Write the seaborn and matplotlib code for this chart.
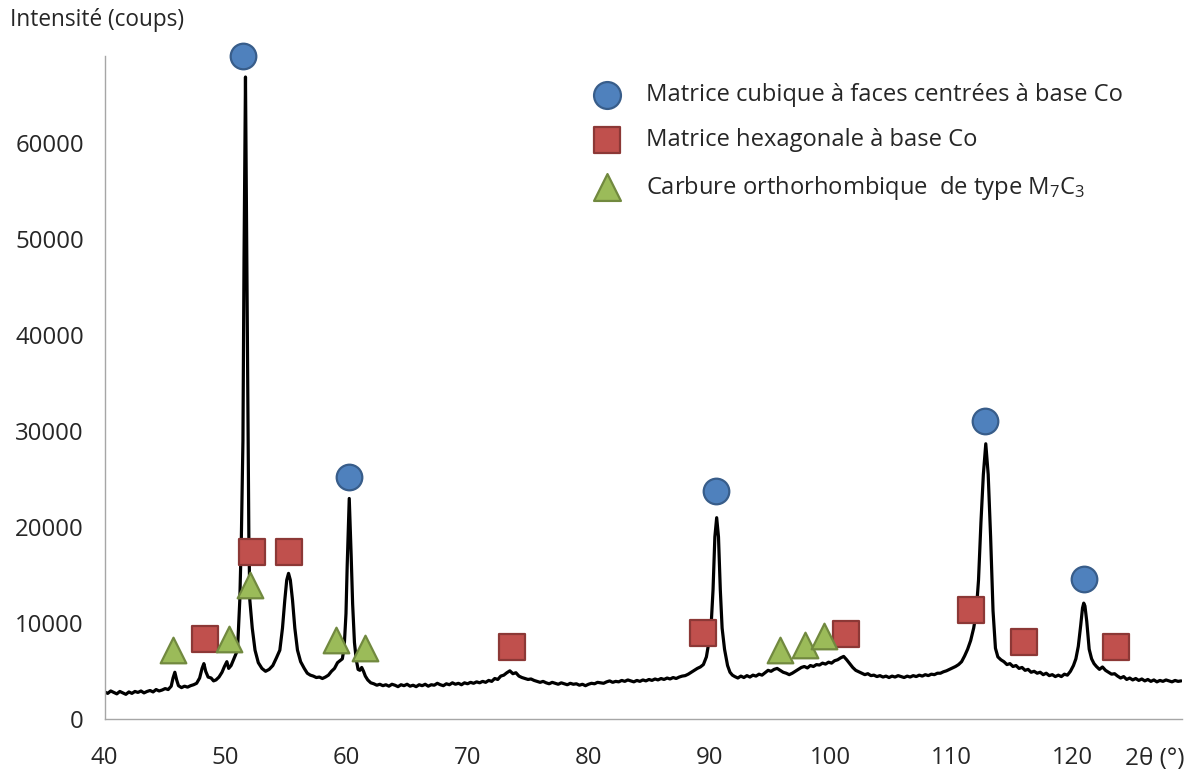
import numpy as np
import pandas as pd
import matplotlib
matplotlib.use("Agg")
import matplotlib.pyplot as plt
import seaborn as sns

# --- diffractogram (2theta in degrees, counts) ---
two_theta = [
    40.0, 40.25, 40.5, 40.75, 41.0, 41.25, 41.5, 41.75, 42.0, 42.25,
    42.5, 42.75, 43.0, 43.25, 43.5, 43.75, 44.0, 44.25, 44.5, 44.75,
    45.0, 45.25, 45.5, 45.65, 45.8, 45.95, 46.1, 46.35, 46.6, 46.85,
    47.1, 47.35, 47.6, 47.85, 48.05, 48.2, 48.35, 48.55, 48.8, 49.0,
    49.2, 49.45, 49.7, 49.9, 50.1, 50.25, 50.45, 50.65, 50.85, 50.98,
    51.17, 51.3, 51.43, 51.52, 51.64, 51.76, 51.85, 51.92, 52.0, 52.2,
    52.43, 52.7, 53.0, 53.3, 53.6, 53.9, 54.2, 54.48, 54.7, 54.89,
    55.05, 55.2, 55.35, 55.53, 55.72, 55.94, 56.2, 56.5, 56.75, 57.0,
    57.25, 57.5, 57.75, 58.0, 58.25, 58.5, 58.75, 59.0, 59.25, 59.45,
    59.65, 59.8, 59.95, 60.05, 60.22, 60.38, 60.5, 60.65, 60.8, 60.95,
    61.1, 61.25, 61.4, 61.55, 61.75, 62.0, 62.25, 62.5, 62.75, 63.0,
    63.25, 63.5, 63.75, 64.0, 64.25, 64.5, 64.75, 65.0, 65.25, 65.5,
    65.75, 66.0, 66.25, 66.5, 66.75, 67.0, 67.25, 67.5, 67.75, 68.0,
    68.25, 68.5, 68.75, 69.0, 69.25, 69.5, 69.75, 70.0, 70.25, 70.5,
    70.75, 71.0, 71.25, 71.5, 71.75, 72.0, 72.25, 72.5, 72.75, 73.0,
    73.25, 73.5, 73.75, 74.0, 74.25, 74.5, 74.75, 75.0, 75.25, 75.5,
    75.75, 76.0, 76.25, 76.5, 76.75, 77.0, 77.25, 77.5, 77.75, 78.0,
    78.25, 78.5, 78.75, 79.0, 79.25, 79.5, 79.75, 80.0, 80.25, 80.5,
    80.75, 81.0, 81.25, 81.5, 81.75, 82.0, 82.25, 82.5, 82.75, 83.0,
    83.25, 83.5, 83.75, 84.0, 84.25, 84.5, 84.75, 85.0, 85.25, 85.5,
    85.75, 86.0, 86.25, 86.5, 86.75, 87.0, 87.25, 87.5, 87.75, 88.0,
    88.25, 88.5, 88.75, 89.0, 89.25, 89.5, 89.75, 89.95, 90.1, 90.3,
    90.45, 90.6, 90.75, 90.9, 91.05, 91.25, 91.5, 91.7, 91.9, 92.1,
    92.35, 92.6, 92.85, 93.1, 93.35, 93.6, 93.85, 94.1, 94.35, 94.6,
    94.85, 95.1, 95.35, 95.6, 95.85, 96.1, 96.35, 96.6, 96.85, 97.1,
    97.35, 97.6, 97.85, 98.1, 98.35, 98.6, 98.85, 99.1, 99.35, 99.6,
    99.85, 100.1, 100.35, 100.6, 100.85, 101.1, 101.35, 101.6, 101.85, 102.1,
    102.35, 102.6, 102.85, 103.1, 103.35, 103.6, 103.85, 104.1, 104.35, 104.6,
    104.85, 105.1, 105.35, 105.6, 105.85, 106.1, 106.35, 106.6, 106.85, 107.1,
    107.35, 107.6, 107.85, 108.1, 108.35, 108.6, 108.85, 109.1, 109.35, 109.6,
    109.85, 110.1, 110.35, 110.6, 110.85, 111.1, 111.35, 111.6, 111.85, 112.05,
    112.25, 112.45, 112.65, 112.85, 113.05, 113.25, 113.45, 113.65, 113.85, 114.1,
    114.35, 114.6, 114.85, 115.1, 115.35, 115.6, 115.85, 116.1, 116.35, 116.6,
    116.85, 117.1, 117.35, 117.6, 117.85, 118.1, 118.35, 118.6, 118.85, 119.1,
    119.35, 119.6, 119.85, 120.1, 120.3, 120.5, 120.7, 120.85, 120.95, 121.05,
    121.2, 121.4, 121.6, 121.8, 122.0, 122.25, 122.5, 122.75, 123.0, 123.25,
    123.5, 123.75, 124.0, 124.25, 124.5, 124.75, 125.0, 125.25, 125.5, 125.75,
    126.0, 126.25, 126.5, 126.75, 127.0, 127.25, 127.5, 127.75, 128.0, 128.25,
    128.5, 128.75, 129.0,
]
counts = [
    2850, 2700, 2950, 2800, 2650, 2900, 2750, 2600, 2850, 2700,
    2900, 2800, 2950, 2750, 2900, 3000, 2850, 3100, 2950, 3050,
    3200, 3100, 3450, 4300, 4900, 4100, 3500, 3300, 3450, 3350,
    3500, 3600, 3750, 4300, 5300, 5800, 5000, 4400, 4300, 4000,
    4100, 4400, 4900, 5500, 6000, 5300, 5600, 6200, 6800, 7200,
    12400, 19000, 29000, 48000, 66900, 46000, 29000, 19000, 12400, 9500,
    7200, 5900, 5300, 5000, 5200, 5600, 6400, 7200, 9500, 12400,
    14500, 15200, 14500, 12400, 9500, 7200, 6000, 5300, 4800, 4600,
    4500, 4350, 4400, 4250, 4400, 4600, 5000, 5300, 5900, 6100,
    6300, 7500, 11000, 16000, 23000, 17000, 12000, 8000, 6200, 5200,
    5100, 5400, 5000, 4500, 4100, 3800, 3700, 3550, 3650, 3500,
    3600, 3450, 3650, 3550, 3400, 3600, 3500, 3650, 3450, 3550,
    3400, 3600, 3500, 3650, 3450, 3600, 3550, 3750, 3600, 3500,
    3700, 3600, 3800, 3650, 3750, 3600, 3800, 3700, 3850, 3750,
    3900, 3800, 3950, 3850, 4050, 3950, 4250, 4150, 4500, 4600,
    4850, 5050, 4750, 4850, 4500, 4350, 4250, 4150, 4200, 4050,
    3950, 3850, 3950, 3800, 3700, 3850, 3750, 3650, 3800, 3700,
    3600, 3750, 3650, 3700, 3550, 3650, 3500, 3650, 3750, 3700,
    3850, 3800, 3750, 3900, 4000, 3850, 3950, 3900, 4050, 3950,
    4100, 4000, 3900, 4050, 3950, 4100, 4000, 4150, 4050, 4200,
    4100, 4250, 4150, 4300, 4200, 4350, 4250, 4400, 4500, 4550,
    4700, 4900, 5100, 5300, 5450, 5700, 6500, 8000, 8800, 13500,
    19000, 21000, 19000, 13500, 9500, 7300, 5600, 4900, 4600, 4450,
    4300, 4500, 4350, 4550, 4400, 4600, 4500, 4700, 4600, 4850,
    5100, 5000, 5200, 5300, 5100, 4900, 4800, 4650, 4800, 5000,
    5200, 5400, 5500, 5350, 5600, 5500, 5700, 5650, 5850, 5750,
    5950, 5850, 6100, 6200, 6400, 6550, 6200, 5800, 5400, 5100,
    4950, 4800, 4650, 4750, 4550, 4600, 4450, 4550, 4400, 4500,
    4350, 4500, 4400, 4550, 4450, 4350, 4500, 4400, 4550, 4450,
    4600, 4500, 4650, 4550, 4700, 4650, 4800, 4800, 4950, 5050,
    5200, 5350, 5500, 5700, 6000, 6600, 7300, 8200, 9500, 11000,
    14500, 20500, 25500, 28700, 25500, 19000, 11300, 7400, 6500, 6200,
    6000, 5700, 5800, 5500, 5600, 5300, 5400, 5100, 5200, 4900,
    5000, 4800, 4900, 4650, 4800, 4550, 4650, 4450, 4600, 4450,
    4700, 4600, 5000, 5600, 6300, 7600, 9800, 11600, 12100, 11800,
    10200, 7300, 6300, 5800, 5500, 5200, 5450, 5100, 4900, 4700,
    4750, 4500, 4300, 4450, 4150, 4300, 4100, 4250, 4050, 4200,
    4000, 4150, 3950, 4100, 3900, 4050, 3950, 4100, 4000, 3900,
    4050, 3950, 4000,
]

# --- phase markers ---
cfc_x = [51.43, 60.2, 90.57, 112.81, 120.94]
cfc_y = [69070, 25270, 23810, 31040, 14610]
hcp_x = [48.32, 52.15, 55.24, 73.65, 89.5, 101.3, 111.64, 115.98, 123.59]
hcp_y = [8400, 17430, 17430, 7500, 8960, 8920, 11350, 8020, 7530]
m7c3_x = [45.65, 50.25, 52.01, 59.12, 61.5, 95.86, 97.9, 99.45]
m7c3_y = [7190, 8360, 13960, 8230, 7460, 7190, 7710, 8650]

labels = [
    "Matrice cubique à faces centrées à base Co",
    "Matrice hexagonale à base Co",
    "Carbure orthorhombique  de type M$_7$C$_3$",
]

sns.set_theme(style="white")
plt.rcParams["font.family"] = ["Open Sans", "DejaVu Sans"]
plt.rcParams["mathtext.fontset"] = "custom"
plt.rcParams["mathtext.rm"] = "Open Sans"
plt.rcParams["mathtext.it"] = "Open Sans"

TXT = "#262626"
GRID = "#A6A6A6"

fig = plt.figure(figsize=(11.95, 7.74), dpi=100)
ax = fig.add_axes([104.7 / 1195, 1 - 719.3 / 774, (1181.7 - 104.7) / 1195, (719.3 - 56) / 774])

df = pd.DataFrame({"two_theta": two_theta, "counts": counts})
sns.lineplot(data=df, x="two_theta", y="counts", ax=ax, color="black",
             lw=2.3, estimator=None, zorder=2)

ms = 340
for xs, ys, mk, fc, ec, lab in [
    (cfc_x, cfc_y, "o", "#4F81BD", "#385D8A", labels[0]),
    (hcp_x, hcp_y, "s", "#C0504D", "#8C3836", labels[1]),
    (m7c3_x, m7c3_y, "^", "#9BBB59", "#71893F", labels[2]),
]:
    sns.scatterplot(x=xs, y=ys, ax=ax, marker=mk, s=ms, color=fc,
                    edgecolor=ec, linewidth=1.6, label=lab, zorder=3,
                    clip_on=False)

ax.set_xlim(40, 129.05)
ax.set_ylim(0, 69090)
ax.set_xticks(range(40, 121, 10))
ax.set_yticks(range(0, 60001, 10000))
ax.set_xlabel("")
ax.set_ylabel("")

for side in ["top", "right"]:
    ax.spines[side].set_visible(False)
for side in ["left", "bottom"]:
    ax.spines[side].set_color(GRID)
    ax.spines[side].set_linewidth(1.0)

ax.tick_params(axis="both", which="major", direction="out", length=6,
               width=1.0, color=GRID, labelcolor=TXT, labelsize=17.3)
ax.tick_params(axis="x", pad=13)
ax.tick_params(axis="y", pad=9)

leg = ax.legend(loc="upper left", bbox_to_anchor=(581 / 1195, 1 - 71 / 774),
                bbox_transform=fig.transFigure, frameon=False, fontsize=17.1,
                handletextpad=1.05, labelspacing=0.9, handlelength=1.2,
                borderpad=0.0, markerscale=1.05)
for t in leg.get_texts():
    t.set_color(TXT)

fig.text(10 / 1195, 1 - 20 / 774, "Intensité (coups)", fontsize=16.3,
         color=TXT, va="center", ha="left")
fig.text(1125 / 1195, 1 - 759 / 774, "2θ (°)", fontsize=17.5,
         color=TXT, va="center", ha="left")

fig.savefig("out.png", dpi=100)
